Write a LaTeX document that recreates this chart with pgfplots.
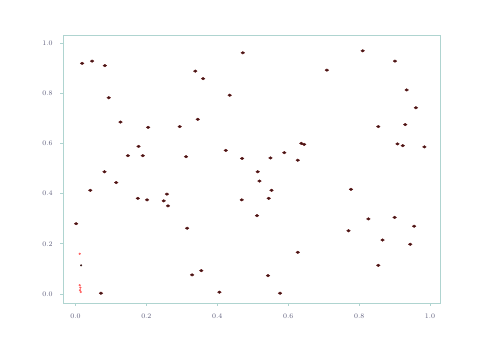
\documentclass[border=0pt]{standalone}
\usepackage{pgfplots}
\pgfplotsset{compat=1.18}
\definecolor{frame}{RGB}{175,212,208}
\definecolor{lbl}{RGB}{95,95,125}
\definecolor{pt}{RGB}{60,25,25}
\begin{document}
\begin{tikzpicture}
\path (0,0) rectangle (483bp,355bp);
\begin{axis}[
  at={(63bp,52bp)}, anchor=south west,
  width=377bp, height=268bp, scale only axis,
  xmin=-0.035, xmax=1.028, ymin=-0.036, ymax=1.032,
  axis line style={frame, line width=0.8pt},
  xtick={0,0.2,0.4,0.6,0.8,1.0}, ytick={0,0.2,0.4,0.6,0.8,1.0},
  xticklabels={0.0,0.2,0.4,0.6,0.8,1.0},
  yticklabels={0.0,0.2,0.4,0.6,0.8,1.0},
  tick align=outside, xtick pos=bottom, ytick pos=left,
  major tick length=3bp,
  tick style={frame, line width=0.6pt},
  ticklabel style={font=\scriptsize, text=lbl},
  xticklabel shift=4bp, yticklabel shift=4bp,
]
\addplot[only marks, mark=*, mark size=1.3pt, mark options={fill=pt, draw=pt!80!red, xscale=1.4}] coordinates {
(0.019,0.919) (0.047,0.928) (0.083,0.910) (0.472,0.961) (0.810,0.969)
(0.901,0.928) (0.338,0.888) (0.360,0.858) (0.709,0.892) (0.094,0.782)
(0.435,0.792) (0.934,0.813) (0.960,0.742) (0.127,0.685) (0.205,0.664)
(0.294,0.667) (0.345,0.696) (0.854,0.667) (0.930,0.675) (0.178,0.588)
(0.637,0.600) (0.645,0.596) (0.908,0.598) (0.923,0.591) (0.984,0.586) (0.148,0.551)
(0.190,0.551) (0.312,0.547) (0.424,0.572) (0.470,0.540) (0.550,0.542)
(0.589,0.563) (0.627,0.533) (0.082,0.487) (0.115,0.444) (0.042,0.413)
(0.514,0.487) (0.519,0.450) (0.553,0.413) (0.545,0.381) (0.176,0.381)
(0.202,0.375) (0.258,0.398) (0.249,0.371) (0.261,0.351) (0.469,0.375)
(0.777,0.417) (0.512,0.312) (0.002,0.280) (0.315,0.262) (0.826,0.299)
(0.900,0.305) (0.955,0.270) (0.770,0.252) (0.866,0.215) (0.944,0.198)
(0.627,0.166) (0.854,0.114) (0.329,0.076) (0.355,0.093) (0.543,0.073)
(0.072,0.003) (0.406,0.007) (0.577,0.003)
};
\addplot[only marks, mark=*, mark size=0.8pt, mark options={fill=pt, draw=pt}] coordinates {(0.016,0.114)};
\addplot[only marks, mark=*, mark size=0.9pt, mark options={fill=red!70, draw=red!60}] coordinates {
(0.012,0.035) (0.014,0.025) (0.013,0.015) (0.015,0.008) (0.012,0.160)
};
\end{axis}
\end{tikzpicture}
\end{document}
